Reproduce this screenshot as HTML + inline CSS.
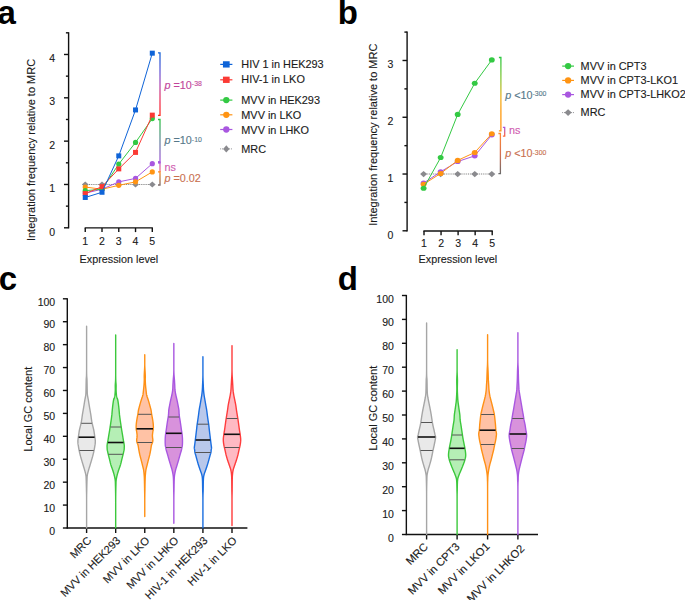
<!DOCTYPE html>
<html><head><meta charset="utf-8"><style>
html,body{margin:0;padding:0;background:#fff;overflow:hidden;}
svg{display:block;font-family:"Liberation Sans", sans-serif;}
</style></head><body>
<svg width="685" height="600" viewBox="0 0 685 600">
<rect width="685" height="600" fill="#fff"/>
<text x="-2.4" y="24.1" font-size="33" font-weight="bold" fill="#000">a</text>
<text x="337.8" y="24.1" font-size="33" font-weight="bold" fill="#000">b</text>
<text x="-1.3" y="290.1" font-size="33" font-weight="bold" fill="#000">c</text>
<text x="337.8" y="290.0" font-size="33" font-weight="bold" fill="#000">d</text>
<line x1="68.60" y1="32.22" x2="68.60" y2="228.40" stroke="#111" stroke-width="1.4" />
<line x1="64.00" y1="227.80" x2="68.60" y2="227.80" stroke="#111" stroke-width="1.4" />
<line x1="65.90" y1="206.14" x2="68.60" y2="206.14" stroke="#111" stroke-width="1.4" />
<line x1="64.00" y1="184.47" x2="68.60" y2="184.47" stroke="#111" stroke-width="1.4" />
<line x1="65.90" y1="162.81" x2="68.60" y2="162.81" stroke="#111" stroke-width="1.4" />
<line x1="64.00" y1="141.14" x2="68.60" y2="141.14" stroke="#111" stroke-width="1.4" />
<line x1="65.90" y1="119.48" x2="68.60" y2="119.48" stroke="#111" stroke-width="1.4" />
<line x1="64.00" y1="97.81" x2="68.60" y2="97.81" stroke="#111" stroke-width="1.4" />
<line x1="65.90" y1="76.15" x2="68.60" y2="76.15" stroke="#111" stroke-width="1.4" />
<line x1="64.00" y1="54.48" x2="68.60" y2="54.48" stroke="#111" stroke-width="1.4" />
<line x1="65.90" y1="32.82" x2="68.60" y2="32.82" stroke="#111" stroke-width="1.4" />
<text x="55.00" y="235.80" font-size="10.5" text-anchor="end" fill="#1a1a1a" stroke="#1a1a1a" stroke-width="0.12" >0</text>
<text x="55.00" y="192.30" font-size="10.5" text-anchor="end" fill="#1a1a1a" stroke="#1a1a1a" stroke-width="0.12" >1</text>
<text x="55.00" y="148.80" font-size="10.5" text-anchor="end" fill="#1a1a1a" stroke="#1a1a1a" stroke-width="0.12" >2</text>
<text x="55.00" y="105.30" font-size="10.5" text-anchor="end" fill="#1a1a1a" stroke="#1a1a1a" stroke-width="0.12" >3</text>
<text x="55.00" y="61.80" font-size="10.5" text-anchor="end" fill="#1a1a1a" stroke="#1a1a1a" stroke-width="0.12" >4</text>
<line x1="84.65" y1="227.90" x2="152.89" y2="227.90" stroke="#111" stroke-width="1.4" />
<line x1="85.25" y1="227.90" x2="85.25" y2="232.10" stroke="#111" stroke-width="1.4" />
<text x="85.25" y="244.60" font-size="10.5" text-anchor="middle" fill="#1a1a1a" stroke="#1a1a1a" stroke-width="0.12" >1</text>
<line x1="102.01" y1="227.90" x2="102.01" y2="232.10" stroke="#111" stroke-width="1.4" />
<text x="102.01" y="244.60" font-size="10.5" text-anchor="middle" fill="#1a1a1a" stroke="#1a1a1a" stroke-width="0.12" >2</text>
<line x1="118.77" y1="227.90" x2="118.77" y2="232.10" stroke="#111" stroke-width="1.4" />
<text x="118.77" y="244.60" font-size="10.5" text-anchor="middle" fill="#1a1a1a" stroke="#1a1a1a" stroke-width="0.12" >3</text>
<line x1="135.53" y1="227.90" x2="135.53" y2="232.10" stroke="#111" stroke-width="1.4" />
<text x="135.53" y="244.60" font-size="10.5" text-anchor="middle" fill="#1a1a1a" stroke="#1a1a1a" stroke-width="0.12" >4</text>
<line x1="152.29" y1="227.90" x2="152.29" y2="232.10" stroke="#111" stroke-width="1.4" />
<text x="152.29" y="244.60" font-size="10.5" text-anchor="middle" fill="#1a1a1a" stroke="#1a1a1a" stroke-width="0.12" >5</text>
<text x="118.90" y="262.90" font-size="10.8" text-anchor="middle" fill="#1a1a1a" stroke="#1a1a1a" stroke-width="0.12" >Expression level</text>
<text transform="translate(34.50,150.00) rotate(-90)" font-size="11" text-anchor="middle" fill="#1a1a1a" stroke="#1a1a1a" stroke-width="0.12">Integration frequency relative to MRC</text>
<polyline points="85.25,184.47 102.01,184.47 118.77,184.47 135.53,184.47 152.29,184.47" fill="none" stroke="#808080" stroke-width="1.1" stroke-dasharray="1 0.85"/>
<polygon points="85.25,181.47 88.60,184.47 85.25,187.47 81.90,184.47" fill="#8a8a8e"/>
<polygon points="102.01,181.47 105.36,184.47 102.01,187.47 98.66,184.47" fill="#8a8a8e"/>
<polygon points="118.77,181.47 122.12,184.47 118.77,187.47 115.42,184.47" fill="#8a8a8e"/>
<polygon points="135.53,181.47 138.88,184.47 135.53,187.47 132.18,184.47" fill="#8a8a8e"/>
<polygon points="152.29,181.47 155.64,184.47 152.29,187.47 148.94,184.47" fill="#8a8a8e"/>
<polyline points="85.25,193.14 102.01,189.24 118.77,181.87 135.53,178.40 152.29,163.67" fill="none" stroke="#a957e0" stroke-width="1.0"/>
<ellipse cx="85.25" cy="193.14" rx="2.6" ry="2.6" fill="#a957e0"/>
<ellipse cx="102.01" cy="189.24" rx="2.6" ry="2.6" fill="#a957e0"/>
<ellipse cx="118.77" cy="181.87" rx="2.6" ry="2.6" fill="#a957e0"/>
<ellipse cx="135.53" cy="178.40" rx="2.6" ry="2.6" fill="#a957e0"/>
<ellipse cx="152.29" cy="163.67" rx="2.6" ry="2.6" fill="#a957e0"/>
<polyline points="85.25,187.07 102.01,189.24 118.77,185.34 135.53,181.87 152.29,171.90" fill="none" stroke="#ff9413" stroke-width="1.0"/>
<ellipse cx="85.25" cy="187.07" rx="2.6" ry="2.6" fill="#ff9413"/>
<ellipse cx="102.01" cy="189.24" rx="2.6" ry="2.6" fill="#ff9413"/>
<ellipse cx="118.77" cy="185.34" rx="2.6" ry="2.6" fill="#ff9413"/>
<ellipse cx="135.53" cy="181.87" rx="2.6" ry="2.6" fill="#ff9413"/>
<ellipse cx="152.29" cy="171.90" rx="2.6" ry="2.6" fill="#ff9413"/>
<polyline points="85.25,190.67 102.01,189.24 118.77,164.10 135.53,142.44 152.29,118.61" fill="none" stroke="#33c943" stroke-width="1.0"/>
<ellipse cx="85.25" cy="190.67" rx="2.6" ry="2.6" fill="#33c943"/>
<ellipse cx="102.01" cy="189.24" rx="2.6" ry="2.6" fill="#33c943"/>
<ellipse cx="118.77" cy="164.10" rx="2.6" ry="2.6" fill="#33c943"/>
<ellipse cx="135.53" cy="142.44" rx="2.6" ry="2.6" fill="#33c943"/>
<ellipse cx="152.29" cy="118.61" rx="2.6" ry="2.6" fill="#33c943"/>
<polyline points="85.25,193.57 102.01,186.64 118.77,168.87 135.53,152.41 152.29,115.14" fill="none" stroke="#fb3a34" stroke-width="1.0"/>
<rect x="82.75" y="191.07" width="5.0" height="5.0" fill="#fb3a34"/>
<rect x="99.51" y="184.14" width="5.0" height="5.0" fill="#fb3a34"/>
<rect x="116.27" y="166.37" width="5.0" height="5.0" fill="#fb3a34"/>
<rect x="133.03" y="149.91" width="5.0" height="5.0" fill="#fb3a34"/>
<rect x="149.79" y="112.64" width="5.0" height="5.0" fill="#fb3a34"/>
<polyline points="85.25,197.47 102.01,192.27 118.77,155.87 135.53,109.94 152.29,53.18" fill="none" stroke="#0f64d8" stroke-width="1.0"/>
<rect x="82.75" y="194.97" width="5.0" height="5.0" fill="#0f64d8"/>
<rect x="99.51" y="189.77" width="5.0" height="5.0" fill="#0f64d8"/>
<rect x="116.27" y="153.37" width="5.0" height="5.0" fill="#0f64d8"/>
<rect x="133.03" y="107.44" width="5.0" height="5.0" fill="#0f64d8"/>
<rect x="149.79" y="50.68" width="5.0" height="5.0" fill="#0f64d8"/>
<defs><linearGradient id="g1" gradientUnits="userSpaceOnUse" x1="0" y1="52.8" x2="0" y2="115.4"><stop offset="0" stop-color="#1565d8"/><stop offset="0.3" stop-color="#6a5ed8"/><stop offset="0.5" stop-color="#b04fb8"/><stop offset="0.75" stop-color="#ee3a60"/><stop offset="1" stop-color="#ff2a20"/></linearGradient></defs>
<path d="M158.00,52.80 H160.00 V115.40 H158.00" fill="none" stroke="url(#g1)" stroke-width="1.3"/>
<defs><linearGradient id="g2" gradientUnits="userSpaceOnUse" x1="0" y1="119.5" x2="0" y2="162.4"><stop offset="0" stop-color="#2fc545"/><stop offset="0.5" stop-color="#6a8aa0"/><stop offset="1" stop-color="#a957e0"/></linearGradient></defs>
<path d="M158.00,119.50 H160.00 V162.40 H158.00" fill="none" stroke="url(#g2)" stroke-width="1.3"/>
<defs><linearGradient id="g3" gradientUnits="userSpaceOnUse" x1="0" y1="162.3" x2="0" y2="171.9"><stop offset="0" stop-color="#b860d8"/><stop offset="1" stop-color="#ff7070"/></linearGradient></defs>
<path d="M160.00,162.30 H160.00 V171.90 H160.00" fill="none" stroke="url(#g3)" stroke-width="1.3"/>
<defs><linearGradient id="g4" gradientUnits="userSpaceOnUse" x1="0" y1="171.9" x2="0" y2="185.0"><stop offset="0" stop-color="#ff8a20"/><stop offset="1" stop-color="#7a6a6a"/></linearGradient></defs>
<path d="M158.00,171.90 H160.00 V185.00 H158.00" fill="none" stroke="url(#g4)" stroke-width="1.3"/>
<text x="164.50" y="88.80" font-size="10.8" fill="#c2449a" stroke="#c2449a" stroke-width="0.12"><tspan font-style="italic">p</tspan> =10<tspan font-size="6.9" dy="-2.6">-38</tspan></text>
<text x="164.50" y="144.40" font-size="10.8" fill="#56788a" stroke="#56788a" stroke-width="0.12"><tspan font-style="italic">p</tspan> =10<tspan font-size="6.9" dy="-2.6">-10</tspan></text>
<text x="164.50" y="170.70" font-size="10.8" text-anchor="start" fill="#d05cb0" stroke="#d05cb0" stroke-width="0.12" >ns</text>
<rect x="158.0" y="161.1" width="2.4" height="2.5" fill="#a957e0"/>
<text x="164.50" y="181.60" font-size="10.8" fill="#c9704f" stroke="#c9704f" stroke-width="0.12"><tspan font-style="italic">p</tspan> =0.02</text>
<line x1="220.20" y1="64.40" x2="232.40" y2="64.40" stroke="#0f64d8" stroke-width="1.2" />
<rect x="222.95" y="61.25" width="6.7" height="6.3" fill="#0f64d8"/>
<text x="241.30" y="68.20" font-size="10.9" text-anchor="start" fill="#1a1a1a" stroke="#1a1a1a" stroke-width="0.12" >HIV 1 in HEK293</text>
<line x1="220.20" y1="79.80" x2="232.40" y2="79.80" stroke="#fb3a34" stroke-width="1.2" />
<rect x="222.95" y="76.65" width="6.7" height="6.3" fill="#fb3a34"/>
<text x="241.30" y="83.40" font-size="10.9" text-anchor="start" fill="#1a1a1a" stroke="#1a1a1a" stroke-width="0.12" >HIV-1 in LKO</text>
<line x1="220.20" y1="100.10" x2="232.40" y2="100.10" stroke="#33c943" stroke-width="1.2" />
<ellipse cx="226.30" cy="100.10" rx="3.15" ry="3.15" fill="#33c943"/>
<text x="241.30" y="104.30" font-size="10.9" text-anchor="start" fill="#1a1a1a" stroke="#1a1a1a" stroke-width="0.12" >MVV in HEK293</text>
<line x1="220.20" y1="114.80" x2="232.40" y2="114.80" stroke="#ff9413" stroke-width="1.2" />
<ellipse cx="226.30" cy="114.80" rx="3.15" ry="3.15" fill="#ff9413"/>
<text x="241.30" y="118.90" font-size="10.9" text-anchor="start" fill="#1a1a1a" stroke="#1a1a1a" stroke-width="0.12" >MVV in LKO</text>
<line x1="220.20" y1="129.50" x2="232.40" y2="129.50" stroke="#a957e0" stroke-width="1.2" />
<ellipse cx="226.30" cy="129.50" rx="3.15" ry="3.15" fill="#a957e0"/>
<text x="241.30" y="133.50" font-size="10.9" text-anchor="start" fill="#1a1a1a" stroke="#1a1a1a" stroke-width="0.12" >MVV in LHKO</text>
<line x1="220.20" y1="148.90" x2="232.40" y2="148.90" stroke="#8a8a8e" stroke-width="1.0" stroke-dasharray="0.9 0.9"/>
<polygon points="226.30,145.20 229.50,148.90 226.30,152.60 223.10,148.90" fill="#8a8a8e"/>
<text x="241.30" y="152.50" font-size="10.9" text-anchor="start" fill="#1a1a1a" stroke="#1a1a1a" stroke-width="0.12" >MRC</text>
<line x1="407.10" y1="31.50" x2="407.10" y2="231.40" stroke="#111" stroke-width="1.4" />
<line x1="402.50" y1="230.80" x2="407.10" y2="230.80" stroke="#111" stroke-width="1.4" />
<line x1="404.40" y1="202.42" x2="407.10" y2="202.42" stroke="#111" stroke-width="1.4" />
<line x1="402.50" y1="174.03" x2="407.10" y2="174.03" stroke="#111" stroke-width="1.4" />
<line x1="404.40" y1="145.65" x2="407.10" y2="145.65" stroke="#111" stroke-width="1.4" />
<line x1="402.50" y1="117.26" x2="407.10" y2="117.26" stroke="#111" stroke-width="1.4" />
<line x1="404.40" y1="88.88" x2="407.10" y2="88.88" stroke="#111" stroke-width="1.4" />
<line x1="402.50" y1="60.49" x2="407.10" y2="60.49" stroke="#111" stroke-width="1.4" />
<line x1="404.40" y1="32.10" x2="407.10" y2="32.10" stroke="#111" stroke-width="1.4" />
<text x="393.30" y="238.90" font-size="10.5" text-anchor="end" fill="#1a1a1a" stroke="#1a1a1a" stroke-width="0.12" >0</text>
<text x="393.30" y="181.90" font-size="10.5" text-anchor="end" fill="#1a1a1a" stroke="#1a1a1a" stroke-width="0.12" >1</text>
<text x="393.30" y="124.90" font-size="10.5" text-anchor="end" fill="#1a1a1a" stroke="#1a1a1a" stroke-width="0.12" >2</text>
<text x="393.30" y="67.90" font-size="10.5" text-anchor="end" fill="#1a1a1a" stroke="#1a1a1a" stroke-width="0.12" >3</text>
<line x1="423.40" y1="231.00" x2="492.80" y2="231.00" stroke="#111" stroke-width="1.4" />
<line x1="424.00" y1="231.00" x2="424.00" y2="235.20" stroke="#111" stroke-width="1.4" />
<text x="424.00" y="247.00" font-size="10.5" text-anchor="middle" fill="#1a1a1a" stroke="#1a1a1a" stroke-width="0.12" >1</text>
<line x1="441.05" y1="231.00" x2="441.05" y2="235.20" stroke="#111" stroke-width="1.4" />
<text x="441.05" y="247.00" font-size="10.5" text-anchor="middle" fill="#1a1a1a" stroke="#1a1a1a" stroke-width="0.12" >2</text>
<line x1="458.10" y1="231.00" x2="458.10" y2="235.20" stroke="#111" stroke-width="1.4" />
<text x="458.10" y="247.00" font-size="10.5" text-anchor="middle" fill="#1a1a1a" stroke="#1a1a1a" stroke-width="0.12" >3</text>
<line x1="475.15" y1="231.00" x2="475.15" y2="235.20" stroke="#111" stroke-width="1.4" />
<text x="475.15" y="247.00" font-size="10.5" text-anchor="middle" fill="#1a1a1a" stroke="#1a1a1a" stroke-width="0.12" >4</text>
<line x1="492.20" y1="231.00" x2="492.20" y2="235.20" stroke="#111" stroke-width="1.4" />
<text x="492.20" y="247.00" font-size="10.5" text-anchor="middle" fill="#1a1a1a" stroke="#1a1a1a" stroke-width="0.12" >5</text>
<text x="457.90" y="262.80" font-size="10.8" text-anchor="middle" fill="#1a1a1a" stroke="#1a1a1a" stroke-width="0.12" >Expression level</text>
<text transform="translate(376.60,134.70) rotate(-90)" font-size="11" text-anchor="middle" fill="#1a1a1a" stroke="#1a1a1a" stroke-width="0.12">Integration frequency relative to MRC</text>
<polyline points="423.60,174.03 440.65,174.03 457.70,174.03 474.75,174.03 491.80,174.03" fill="none" stroke="#808080" stroke-width="1.1" stroke-dasharray="1 0.85"/>
<polygon points="423.60,170.93 427.10,174.03 423.60,177.13 420.10,174.03" fill="#8a8a8e"/>
<polygon points="440.65,170.93 444.15,174.03 440.65,177.13 437.15,174.03" fill="#8a8a8e"/>
<polygon points="457.70,170.93 461.20,174.03 457.70,177.13 454.20,174.03" fill="#8a8a8e"/>
<polygon points="474.75,170.93 478.25,174.03 474.75,177.13 471.25,174.03" fill="#8a8a8e"/>
<polygon points="491.80,170.93 495.30,174.03 491.80,177.13 488.30,174.03" fill="#8a8a8e"/>
<polyline points="423.60,183.11 440.65,171.76 457.70,161.54 474.75,155.86 491.80,134.86" fill="none" stroke="#a957e0" stroke-width="1.0"/>
<ellipse cx="423.60" cy="183.11" rx="2.95" ry="2.55" fill="#a957e0"/>
<ellipse cx="440.65" cy="171.76" rx="2.95" ry="2.55" fill="#a957e0"/>
<ellipse cx="457.70" cy="161.54" rx="2.95" ry="2.55" fill="#a957e0"/>
<ellipse cx="474.75" cy="155.86" rx="2.95" ry="2.55" fill="#a957e0"/>
<ellipse cx="491.80" cy="134.86" rx="2.95" ry="2.55" fill="#a957e0"/>
<polyline points="423.60,184.25 440.65,173.46 457.70,160.41 474.75,152.46 491.80,133.72" fill="none" stroke="#ff9413" stroke-width="1.0"/>
<ellipse cx="423.60" cy="184.25" rx="2.95" ry="2.55" fill="#ff9413"/>
<ellipse cx="440.65" cy="173.46" rx="2.95" ry="2.55" fill="#ff9413"/>
<ellipse cx="457.70" cy="160.41" rx="2.95" ry="2.55" fill="#ff9413"/>
<ellipse cx="474.75" cy="152.46" rx="2.95" ry="2.55" fill="#ff9413"/>
<ellipse cx="491.80" cy="133.72" rx="2.95" ry="2.55" fill="#ff9413"/>
<polyline points="423.60,188.22 440.65,157.57 457.70,114.42 474.75,83.20 491.80,59.92" fill="none" stroke="#33c943" stroke-width="1.0"/>
<ellipse cx="423.60" cy="188.22" rx="2.95" ry="2.55" fill="#33c943"/>
<ellipse cx="440.65" cy="157.57" rx="2.95" ry="2.55" fill="#33c943"/>
<ellipse cx="457.70" cy="114.42" rx="2.95" ry="2.55" fill="#33c943"/>
<ellipse cx="474.75" cy="83.20" rx="2.95" ry="2.55" fill="#33c943"/>
<ellipse cx="491.80" cy="59.92" rx="2.95" ry="2.55" fill="#33c943"/>
<defs><linearGradient id="g5" gradientUnits="userSpaceOnUse" x1="0" y1="57.5" x2="0" y2="130.8"><stop offset="0" stop-color="#2ec943"/><stop offset="0.3" stop-color="#8cc83a"/><stop offset="0.55" stop-color="#f0b020"/><stop offset="0.75" stop-color="#ff9a10"/><stop offset="1" stop-color="#ff9413"/></linearGradient></defs>
<path d="M498.90,57.50 H500.90 V130.80 H498.90" fill="none" stroke="url(#g5)" stroke-width="1.3"/>
<defs><linearGradient id="g6" gradientUnits="userSpaceOnUse" x1="0" y1="127.4" x2="0" y2="136.1"><stop offset="0" stop-color="#a957e0"/><stop offset="1" stop-color="#ff6a3a"/></linearGradient></defs>
<path d="M502.90,127.40 H504.70 V136.10 H502.90" fill="none" stroke="url(#g6)" stroke-width="1.3"/>
<defs><linearGradient id="g7" gradientUnits="userSpaceOnUse" x1="0" y1="133.5" x2="0" y2="173.6"><stop offset="0" stop-color="#ff8a30"/><stop offset="0.5" stop-color="#d87050"/><stop offset="1" stop-color="#6a6a6a"/></linearGradient></defs>
<path d="M498.40,133.50 H500.40 V173.60 H498.40" fill="none" stroke="url(#g7)" stroke-width="1.3"/>
<text x="505.20" y="98.60" font-size="10.8" fill="#56788a" stroke="#56788a" stroke-width="0.12"><tspan font-style="italic">p</tspan> &lt;10<tspan font-size="6.9" dy="-2.6">-300</tspan></text>
<text x="508.90" y="133.50" font-size="10.8" text-anchor="start" fill="#d05cb0" stroke="#d05cb0" stroke-width="0.12" >ns</text>
<text x="505.20" y="157.30" font-size="10.8" fill="#c9704f" stroke="#c9704f" stroke-width="0.12"><tspan font-style="italic">p</tspan> &lt;10<tspan font-size="6.9" dy="-2.6">-300</tspan></text>
<line x1="562.20" y1="66.10" x2="574.00" y2="66.10" stroke="#33c943" stroke-width="1.2" />
<ellipse cx="568.10" cy="66.10" rx="3.15" ry="3.15" fill="#33c943"/>
<text x="580.60" y="69.70" font-size="10.9" text-anchor="start" fill="#1a1a1a" stroke="#1a1a1a" stroke-width="0.12" >MVV in CPT3</text>
<line x1="562.20" y1="80.40" x2="574.00" y2="80.40" stroke="#ff9413" stroke-width="1.2" />
<ellipse cx="568.10" cy="80.40" rx="3.15" ry="3.15" fill="#ff9413"/>
<text x="580.60" y="84.10" font-size="10.9" text-anchor="start" fill="#1a1a1a" stroke="#1a1a1a" stroke-width="0.12" >MVV in CPT3-LKO1</text>
<line x1="562.20" y1="94.60" x2="574.00" y2="94.60" stroke="#a957e0" stroke-width="1.2" />
<ellipse cx="568.10" cy="94.60" rx="3.15" ry="3.15" fill="#a957e0"/>
<text x="580.60" y="98.10" font-size="10.9" text-anchor="start" fill="#1a1a1a" stroke="#1a1a1a" stroke-width="0.12" >MVV in CPT3-LHKO2</text>
<line x1="562.20" y1="112.60" x2="574.00" y2="112.60" stroke="#8a8a8e" stroke-width="1.0" stroke-dasharray="0.9 0.9"/>
<polygon points="568.10,109.20 571.70,112.60 568.10,116.00 564.50,112.60" fill="#8a8a8e"/>
<text x="580.60" y="116.30" font-size="10.9" text-anchor="start" fill="#1a1a1a" stroke="#1a1a1a" stroke-width="0.12" >MRC</text>
<line x1="67.30" y1="298.20" x2="67.30" y2="528.60" stroke="#111" stroke-width="1.4" />
<line x1="62.90" y1="528.00" x2="67.30" y2="528.00" stroke="#111" stroke-width="1.4" />
<text x="55.20" y="534.70" font-size="10.5" text-anchor="end" fill="#1a1a1a" stroke="#1a1a1a" stroke-width="0.12" >0</text>
<line x1="62.90" y1="505.08" x2="67.30" y2="505.08" stroke="#111" stroke-width="1.4" />
<text x="55.20" y="511.78" font-size="10.5" text-anchor="end" fill="#1a1a1a" stroke="#1a1a1a" stroke-width="0.12" >10</text>
<line x1="62.90" y1="482.16" x2="67.30" y2="482.16" stroke="#111" stroke-width="1.4" />
<text x="55.20" y="488.86" font-size="10.5" text-anchor="end" fill="#1a1a1a" stroke="#1a1a1a" stroke-width="0.12" >20</text>
<line x1="62.90" y1="459.24" x2="67.30" y2="459.24" stroke="#111" stroke-width="1.4" />
<text x="55.20" y="465.94" font-size="10.5" text-anchor="end" fill="#1a1a1a" stroke="#1a1a1a" stroke-width="0.12" >30</text>
<line x1="62.90" y1="436.32" x2="67.30" y2="436.32" stroke="#111" stroke-width="1.4" />
<text x="55.20" y="443.02" font-size="10.5" text-anchor="end" fill="#1a1a1a" stroke="#1a1a1a" stroke-width="0.12" >40</text>
<line x1="62.90" y1="413.40" x2="67.30" y2="413.40" stroke="#111" stroke-width="1.4" />
<text x="55.20" y="420.10" font-size="10.5" text-anchor="end" fill="#1a1a1a" stroke="#1a1a1a" stroke-width="0.12" >50</text>
<line x1="62.90" y1="390.48" x2="67.30" y2="390.48" stroke="#111" stroke-width="1.4" />
<text x="55.20" y="397.18" font-size="10.5" text-anchor="end" fill="#1a1a1a" stroke="#1a1a1a" stroke-width="0.12" >60</text>
<line x1="62.90" y1="367.56" x2="67.30" y2="367.56" stroke="#111" stroke-width="1.4" />
<text x="55.20" y="374.26" font-size="10.5" text-anchor="end" fill="#1a1a1a" stroke="#1a1a1a" stroke-width="0.12" >70</text>
<line x1="62.90" y1="344.64" x2="67.30" y2="344.64" stroke="#111" stroke-width="1.4" />
<text x="55.20" y="351.34" font-size="10.5" text-anchor="end" fill="#1a1a1a" stroke="#1a1a1a" stroke-width="0.12" >80</text>
<line x1="62.90" y1="321.72" x2="67.30" y2="321.72" stroke="#111" stroke-width="1.4" />
<text x="55.20" y="328.42" font-size="10.5" text-anchor="end" fill="#1a1a1a" stroke="#1a1a1a" stroke-width="0.12" >90</text>
<line x1="62.90" y1="298.80" x2="67.30" y2="298.80" stroke="#111" stroke-width="1.4" />
<text x="55.20" y="305.50" font-size="10.5" text-anchor="end" fill="#1a1a1a" stroke="#1a1a1a" stroke-width="0.12" >100</text>
<line x1="66.70" y1="528.00" x2="247.40" y2="528.00" stroke="#111" stroke-width="1.4" />
<line x1="86.60" y1="528.00" x2="86.60" y2="533.00" stroke="#111" stroke-width="1.4" />
<line x1="115.68" y1="528.00" x2="115.68" y2="533.00" stroke="#111" stroke-width="1.4" />
<line x1="144.76" y1="528.00" x2="144.76" y2="533.00" stroke="#111" stroke-width="1.4" />
<line x1="173.84" y1="528.00" x2="173.84" y2="533.00" stroke="#111" stroke-width="1.4" />
<line x1="202.92" y1="528.00" x2="202.92" y2="533.00" stroke="#111" stroke-width="1.4" />
<line x1="232.00" y1="528.00" x2="232.00" y2="533.00" stroke="#111" stroke-width="1.4" />
<text transform="translate(92.10,541.20) rotate(-45)" font-size="11" text-anchor="end" fill="#1a1a1a" stroke="#1a1a1a" stroke-width="0.12">MRC</text>
<text transform="translate(121.18,541.20) rotate(-45)" font-size="11" text-anchor="end" fill="#1a1a1a" stroke="#1a1a1a" stroke-width="0.12">MVV in HEK293</text>
<text transform="translate(150.26,541.20) rotate(-45)" font-size="11" text-anchor="end" fill="#1a1a1a" stroke="#1a1a1a" stroke-width="0.12">MVV in LKO</text>
<text transform="translate(179.34,541.20) rotate(-45)" font-size="11" text-anchor="end" fill="#1a1a1a" stroke="#1a1a1a" stroke-width="0.12">MVV in LHKO</text>
<text transform="translate(208.42,541.20) rotate(-45)" font-size="11" text-anchor="end" fill="#1a1a1a" stroke="#1a1a1a" stroke-width="0.12">HIV-1 in HEK293</text>
<text transform="translate(237.50,541.20) rotate(-45)" font-size="11" text-anchor="end" fill="#1a1a1a" stroke="#1a1a1a" stroke-width="0.12">HIV-1 in LKO</text>
<text transform="translate(32.40,409.20) rotate(-90)" font-size="11" text-anchor="middle" fill="#1a1a1a" stroke="#1a1a1a" stroke-width="0.12">Local GC content</text>
<polygon points="86.60,326.20 86.60,331.36 86.60,338.81 86.60,347.47 86.60,356.28 86.60,364.15 86.60,370.00 86.65,373.62 86.71,375.84 86.79,377.11 86.87,377.92 86.94,378.72 87.00,380.00 87.04,381.72 87.08,383.52 87.11,385.31 87.14,387.04 87.17,388.62 87.20,390.00 87.23,391.12 87.26,392.04 87.28,392.81 87.32,393.52 87.37,394.22 87.45,395.00 87.56,395.83 87.71,396.67 87.87,397.50 88.03,398.33 88.20,399.17 88.35,400.00 88.49,400.83 88.62,401.67 88.75,402.50 88.88,403.33 89.01,404.17 89.15,405.00 89.29,405.83 89.43,406.67 89.57,407.50 89.71,408.33 89.86,409.17 90.00,410.00 90.14,410.83 90.29,411.67 90.43,412.50 90.58,413.33 90.72,414.17 90.85,415.00 90.97,415.83 91.08,416.67 91.19,417.50 91.30,418.33 91.42,419.17 91.55,420.00 91.70,420.83 91.85,421.67 92.02,422.50 92.19,423.33 92.37,424.17 92.55,425.00 92.74,425.83 92.95,426.67 93.16,427.50 93.37,428.33 93.57,429.17 93.75,430.00 93.91,430.83 94.05,431.67 94.18,432.50 94.31,433.33 94.43,434.17 94.55,435.00 94.68,435.86 94.82,436.74 94.95,437.62 95.07,438.48 95.17,439.28 95.25,440.00 95.29,440.63 95.31,441.19 95.31,441.69 95.29,442.15 95.27,442.58 95.25,443.00 95.23,443.36 95.21,443.63 95.18,443.88 95.14,444.15 95.08,444.50 95.00,445.00 94.90,445.66 94.77,446.44 94.63,447.31 94.48,448.22 94.32,449.13 94.15,450.00 93.98,450.83 93.80,451.67 93.61,452.50 93.41,453.33 93.21,454.17 93.00,455.00 92.78,455.83 92.56,456.67 92.32,457.50 92.08,458.33 91.84,459.17 91.60,460.00 91.36,460.83 91.11,461.67 90.86,462.50 90.60,463.33 90.35,464.17 90.10,465.00 89.85,465.83 89.59,466.67 89.33,467.50 89.08,468.33 88.84,469.17 88.60,470.00 88.37,470.83 88.13,471.67 87.90,472.50 87.69,473.33 87.50,474.17 87.35,475.00 87.24,475.78 87.16,476.48 87.11,477.19 87.08,477.96 87.04,478.88 87.00,480.00 86.95,481.38 86.91,482.96 86.86,484.69 86.82,486.48 86.78,488.28 86.75,490.00 86.72,491.46 86.69,492.67 86.66,493.88 86.64,495.33 86.62,497.29 86.60,500.00 86.60,503.95 86.60,509.04 86.60,514.62 86.60,520.07 86.60,524.75 86.60,528.00 86.60,528.00 86.60,524.75 86.60,520.07 86.60,514.62 86.60,509.04 86.60,503.95 86.60,500.00 86.58,497.29 86.56,495.33 86.54,493.88 86.51,492.67 86.48,491.46 86.45,490.00 86.42,488.28 86.38,486.48 86.34,484.69 86.29,482.96 86.25,481.38 86.20,480.00 86.16,478.88 86.12,477.96 86.09,477.19 86.04,476.48 85.96,475.78 85.85,475.00 85.70,474.17 85.51,473.33 85.30,472.50 85.07,471.67 84.83,470.83 84.60,470.00 84.36,469.17 84.12,468.33 83.87,467.50 83.61,466.67 83.35,465.83 83.10,465.00 82.85,464.17 82.60,463.33 82.34,462.50 82.09,461.67 81.84,460.83 81.60,460.00 81.36,459.17 81.12,458.33 80.88,457.50 80.64,456.67 80.42,455.83 80.20,455.00 79.99,454.17 79.79,453.33 79.59,452.50 79.40,451.67 79.22,450.83 79.05,450.00 78.88,449.13 78.72,448.22 78.57,447.31 78.43,446.44 78.30,445.66 78.20,445.00 78.12,444.50 78.06,444.15 78.02,443.88 77.99,443.63 77.97,443.36 77.95,443.00 77.93,442.58 77.91,442.15 77.89,441.69 77.89,441.19 77.91,440.63 77.95,440.00 78.02,439.28 78.13,438.48 78.25,437.62 78.38,436.74 78.52,435.86 78.65,435.00 78.77,434.17 78.89,433.33 79.02,432.50 79.15,431.67 79.29,430.83 79.45,430.00 79.63,429.17 79.83,428.33 80.04,427.50 80.25,426.67 80.46,425.83 80.65,425.00 80.83,424.17 81.01,423.33 81.18,422.50 81.35,421.67 81.50,420.83 81.65,420.00 81.78,419.17 81.90,418.33 82.01,417.50 82.12,416.67 82.23,415.83 82.35,415.00 82.48,414.17 82.62,413.33 82.77,412.50 82.91,411.67 83.06,410.83 83.20,410.00 83.34,409.17 83.49,408.33 83.63,407.50 83.77,406.67 83.91,405.83 84.05,405.00 84.19,404.17 84.32,403.33 84.45,402.50 84.58,401.67 84.71,400.83 84.85,400.00 85.00,399.17 85.17,398.33 85.33,397.50 85.49,396.67 85.64,395.83 85.75,395.00 85.83,394.22 85.88,393.52 85.92,392.81 85.94,392.04 85.97,391.12 86.00,390.00 86.03,388.62 86.06,387.04 86.09,385.31 86.12,383.52 86.16,381.72 86.20,380.00 86.26,378.72 86.33,377.92 86.41,377.11 86.49,375.84 86.55,373.62 86.60,370.00 86.60,364.15 86.60,356.28 86.60,347.47 86.60,338.81 86.60,331.36 86.60,326.20" fill="#e9e9e9" stroke="#a6a6a6" stroke-width="1.4" stroke-linejoin="round"/>
<line x1="81.32" y1="423.30" x2="91.88" y2="423.30" stroke="#555" stroke-width="1.0" />
<line x1="79.45" y1="450.50" x2="93.75" y2="450.50" stroke="#555" stroke-width="1.0" />
<line x1="78.61" y1="437.20" x2="94.59" y2="437.20" stroke="#111" stroke-width="1.6" />
<polygon points="115.68,335.00 115.68,339.70 115.68,346.48 115.68,354.38 115.68,362.41 115.68,369.61 115.68,375.00 115.73,378.46 115.80,380.74 115.88,382.19 115.96,383.15 116.03,383.97 116.08,385.00 116.10,386.12 116.10,387.04 116.08,387.81 116.07,388.52 116.06,389.22 116.08,390.00 116.11,390.86 116.16,391.74 116.21,392.62 116.28,393.48 116.35,394.28 116.43,395.00 116.52,395.63 116.62,396.19 116.73,396.69 116.85,397.15 116.97,397.58 117.08,398.00 117.19,398.36 117.31,398.63 117.42,398.88 117.54,399.15 117.66,399.50 117.78,400.00 117.90,400.66 118.03,401.44 118.16,402.31 118.29,403.22 118.42,404.13 118.53,405.00 118.63,405.83 118.73,406.67 118.82,407.50 118.91,408.33 119.00,409.17 119.08,410.00 119.16,410.83 119.23,411.67 119.30,412.50 119.37,413.33 119.44,414.17 119.53,415.00 119.63,415.83 119.73,416.67 119.84,417.50 119.95,418.33 120.06,419.17 120.18,420.00 120.30,420.83 120.42,421.67 120.55,422.50 120.68,423.33 120.80,424.17 120.93,425.00 121.05,425.83 121.18,426.67 121.30,427.50 121.42,428.33 121.55,429.17 121.68,430.00 121.82,430.83 121.96,431.67 122.10,432.50 122.25,433.33 122.39,434.17 122.53,435.00 122.67,435.83 122.80,436.67 122.93,437.50 123.06,438.33 123.19,439.17 123.33,440.00 123.48,440.86 123.66,441.74 123.83,442.62 123.99,443.48 124.13,444.28 124.23,445.00 124.28,445.63 124.30,446.19 124.30,446.69 124.27,447.15 124.25,447.58 124.23,448.00 124.23,448.36 124.23,448.63 124.23,448.88 124.21,449.15 124.16,449.50 124.08,450.00 123.95,450.66 123.77,451.44 123.57,452.31 123.36,453.22 123.14,454.13 122.93,455.00 122.73,455.83 122.52,456.67 122.31,457.50 122.10,458.33 121.89,459.17 121.68,460.00 121.48,460.83 121.28,461.67 121.09,462.50 120.88,463.33 120.67,464.17 120.43,465.00 120.16,465.83 119.87,466.67 119.57,467.50 119.26,468.33 118.96,469.17 118.68,470.00 118.41,470.83 118.14,471.67 117.88,472.50 117.63,473.33 117.40,474.17 117.18,475.00 116.98,475.83 116.78,476.67 116.60,477.50 116.44,478.33 116.30,479.17 116.18,480.00 116.09,480.78 116.04,481.48 116.00,482.19 115.98,482.96 115.96,483.88 115.93,485.00 115.89,486.38 115.85,487.96 115.82,489.69 115.78,491.48 115.75,493.28 115.73,495.00 115.71,496.52 115.70,497.85 115.69,499.19 115.69,500.70 115.68,502.58 115.68,505.00 115.68,508.35 115.68,512.56 115.68,517.12 115.68,521.56 115.68,525.35 115.68,528.00 115.68,528.00 115.68,525.35 115.68,521.56 115.68,517.12 115.68,512.56 115.68,508.35 115.68,505.00 115.68,502.58 115.67,500.70 115.67,499.19 115.66,497.85 115.65,496.52 115.63,495.00 115.61,493.28 115.58,491.48 115.54,489.69 115.51,487.96 115.47,486.38 115.43,485.00 115.40,483.88 115.38,482.96 115.35,482.19 115.32,481.48 115.27,480.78 115.18,480.00 115.06,479.17 114.92,478.33 114.76,477.50 114.58,476.67 114.38,475.83 114.18,475.00 113.96,474.17 113.73,473.33 113.48,472.50 113.22,471.67 112.95,470.83 112.68,470.00 112.40,469.17 112.10,468.33 111.79,467.50 111.49,466.67 111.20,465.83 110.93,465.00 110.69,464.17 110.48,463.33 110.27,462.50 110.08,461.67 109.88,460.83 109.68,460.00 109.47,459.17 109.26,458.33 109.05,457.50 108.84,456.67 108.63,455.83 108.43,455.00 108.22,454.13 108.00,453.22 107.79,452.31 107.59,451.44 107.41,450.66 107.28,450.00 107.20,449.50 107.15,449.15 107.13,448.88 107.13,448.63 107.13,448.36 107.13,448.00 107.11,447.58 107.09,447.15 107.06,446.69 107.06,446.19 107.08,445.63 107.13,445.00 107.23,444.28 107.37,443.48 107.53,442.62 107.70,441.74 107.88,440.86 108.03,440.00 108.17,439.17 108.30,438.33 108.43,437.50 108.56,436.67 108.69,435.83 108.83,435.00 108.97,434.17 109.11,433.33 109.26,432.50 109.40,431.67 109.54,430.83 109.68,430.00 109.81,429.17 109.94,428.33 110.06,427.50 110.18,426.67 110.31,425.83 110.43,425.00 110.56,424.17 110.68,423.33 110.81,422.50 110.94,421.67 111.06,420.83 111.18,420.00 111.30,419.17 111.41,418.33 111.52,417.50 111.63,416.67 111.73,415.83 111.83,415.00 111.92,414.17 111.99,413.33 112.06,412.50 112.13,411.67 112.20,410.83 112.28,410.00 112.36,409.17 112.45,408.33 112.54,407.50 112.63,406.67 112.73,405.83 112.83,405.00 112.94,404.13 113.07,403.22 113.20,402.31 113.33,401.44 113.46,400.66 113.58,400.00 113.70,399.50 113.82,399.15 113.94,398.88 114.05,398.63 114.17,398.36 114.28,398.00 114.39,397.58 114.51,397.15 114.63,396.69 114.74,396.19 114.84,395.63 114.93,395.00 115.01,394.28 115.08,393.48 115.15,392.62 115.20,391.74 115.25,390.86 115.28,390.00 115.30,389.22 115.29,388.52 115.28,387.81 115.26,387.04 115.26,386.12 115.28,385.00 115.33,383.97 115.40,383.15 115.48,382.19 115.56,380.74 115.63,378.46 115.68,375.00 115.68,369.61 115.68,362.41 115.68,354.38 115.68,346.48 115.68,339.70 115.68,335.00" fill="#b5efb5" stroke="#3cc83c" stroke-width="1.4" stroke-linejoin="round"/>
<line x1="110.43" y1="427.00" x2="120.93" y2="427.00" stroke="#555" stroke-width="1.0" />
<line x1="108.56" y1="454.30" x2="122.80" y2="454.30" stroke="#555" stroke-width="1.0" />
<line x1="107.85" y1="442.50" x2="123.51" y2="442.50" stroke="#111" stroke-width="1.6" />
<polygon points="144.76,354.70 144.76,355.82 144.76,357.38 144.76,359.22 144.76,361.21 144.76,363.18 144.76,365.00 144.82,366.74 144.91,368.54 145.01,370.33 145.11,372.05 145.20,373.63 145.26,375.00 145.29,376.12 145.29,377.04 145.28,377.81 145.26,378.52 145.25,379.22 145.26,380.00 145.28,380.83 145.32,381.67 145.35,382.50 145.40,383.33 145.45,384.17 145.51,385.00 145.58,385.83 145.65,386.67 145.73,387.50 145.82,388.33 145.92,389.17 146.01,390.00 146.10,390.83 146.18,391.67 146.27,392.50 146.37,393.33 146.49,394.17 146.66,395.00 146.87,395.83 147.13,396.67 147.41,397.50 147.70,398.33 147.99,399.17 148.26,400.00 148.51,400.83 148.76,401.67 149.00,402.50 149.24,403.33 149.48,404.17 149.71,405.00 149.94,405.84 150.18,406.70 150.41,407.56 150.63,408.41 150.84,409.22 151.01,410.00 151.14,410.70 151.24,411.33 151.32,411.94 151.40,412.56 151.49,413.23 151.61,414.00 151.77,414.90 151.96,415.89 152.16,416.94 152.36,418.00 152.55,419.03 152.71,420.00 152.85,420.90 152.97,421.78 153.08,422.62 153.17,423.44 153.25,424.24 153.31,425.00 153.35,425.74 153.37,426.44 153.38,427.12 153.37,427.78 153.35,428.40 153.31,429.00 153.25,429.55 153.18,430.04 153.08,430.50 152.99,430.96 152.89,431.45 152.81,432.00 152.73,432.61 152.64,433.26 152.55,433.94 152.48,434.63 152.43,435.32 152.41,436.00 152.45,436.68 152.53,437.39 152.63,438.09 152.74,438.78 152.82,439.42 152.86,440.00 152.86,440.50 152.83,440.94 152.78,441.34 152.70,441.72 152.62,442.10 152.51,442.50 152.38,442.89 152.22,443.24 152.04,443.59 151.86,443.98 151.68,444.44 151.51,445.00 151.36,445.69 151.22,446.48 151.08,447.34 150.95,448.24 150.81,449.14 150.66,450.00 150.51,450.83 150.35,451.67 150.19,452.50 150.02,453.33 149.85,454.17 149.66,455.00 149.46,455.83 149.25,456.67 149.03,457.50 148.80,458.33 148.58,459.17 148.36,460.00 148.15,460.83 147.94,461.67 147.73,462.50 147.52,463.33 147.31,464.17 147.11,465.00 146.90,465.83 146.68,466.67 146.47,467.50 146.26,468.33 146.07,469.17 145.91,470.00 145.78,470.83 145.67,471.67 145.58,472.50 145.50,473.33 145.43,474.17 145.36,475.00 145.30,475.78 145.25,476.48 145.21,477.19 145.18,477.96 145.15,478.88 145.11,480.00 145.07,481.38 145.04,482.96 145.00,484.69 144.97,486.48 144.94,488.28 144.91,490.00 144.88,491.59 144.85,493.09 144.82,494.59 144.80,496.18 144.78,497.95 144.76,500.00 144.76,502.58 144.76,505.66 144.76,508.93 144.76,512.05 144.76,514.72 144.76,516.60 144.76,516.60 144.76,514.72 144.76,512.05 144.76,508.93 144.76,505.66 144.76,502.58 144.76,500.00 144.74,497.95 144.72,496.18 144.70,494.59 144.67,493.09 144.64,491.59 144.61,490.00 144.58,488.28 144.55,486.48 144.52,484.69 144.48,482.96 144.45,481.38 144.41,480.00 144.37,478.88 144.34,477.96 144.31,477.19 144.27,476.48 144.22,475.78 144.16,475.00 144.09,474.17 144.02,473.33 143.94,472.50 143.85,471.67 143.74,470.83 143.61,470.00 143.45,469.17 143.26,468.33 143.05,467.50 142.84,466.67 142.62,465.83 142.41,465.00 142.21,464.17 142.00,463.33 141.79,462.50 141.58,461.67 141.37,460.83 141.16,460.00 140.94,459.17 140.72,458.33 140.49,457.50 140.27,456.67 140.06,455.83 139.86,455.00 139.67,454.17 139.50,453.33 139.33,452.50 139.17,451.67 139.01,450.83 138.86,450.00 138.71,449.14 138.57,448.24 138.44,447.34 138.30,446.48 138.16,445.69 138.01,445.00 137.84,444.44 137.66,443.98 137.48,443.59 137.30,443.24 137.14,442.89 137.01,442.50 136.90,442.10 136.82,441.72 136.74,441.34 136.69,440.94 136.66,440.50 136.66,440.00 136.70,439.42 136.78,438.78 136.89,438.09 136.99,437.39 137.07,436.68 137.11,436.00 137.09,435.32 137.04,434.63 136.97,433.94 136.88,433.26 136.79,432.61 136.71,432.00 136.63,431.45 136.53,430.96 136.44,430.50 136.34,430.04 136.27,429.55 136.21,429.00 136.17,428.40 136.15,427.78 136.14,427.12 136.15,426.44 136.17,425.74 136.21,425.00 136.27,424.24 136.35,423.44 136.44,422.62 136.55,421.78 136.67,420.90 136.81,420.00 136.97,419.03 137.16,418.00 137.36,416.94 137.56,415.89 137.75,414.90 137.91,414.00 138.03,413.23 138.12,412.56 138.20,411.94 138.28,411.33 138.38,410.70 138.51,410.00 138.68,409.22 138.89,408.41 139.11,407.56 139.34,406.70 139.58,405.84 139.81,405.00 140.04,404.17 140.28,403.33 140.52,402.50 140.76,401.67 141.01,400.83 141.26,400.00 141.53,399.17 141.82,398.33 142.11,397.50 142.39,396.67 142.65,395.83 142.86,395.00 143.03,394.17 143.15,393.33 143.25,392.50 143.34,391.67 143.42,390.83 143.51,390.00 143.60,389.17 143.70,388.33 143.78,387.50 143.87,386.67 143.94,385.83 144.01,385.00 144.07,384.17 144.12,383.33 144.17,382.50 144.20,381.67 144.24,380.83 144.26,380.00 144.27,379.22 144.26,378.52 144.24,377.81 144.23,377.04 144.23,376.12 144.26,375.00 144.32,373.63 144.41,372.05 144.51,370.33 144.61,368.54 144.70,366.74 144.76,365.00 144.76,363.18 144.76,361.21 144.76,359.22 144.76,357.38 144.76,355.82 144.76,354.70" fill="#ffc2a5" stroke="#ff9015" stroke-width="1.4" stroke-linejoin="round"/>
<line x1="138.16" y1="414.30" x2="151.36" y2="414.30" stroke="#555" stroke-width="1.0" />
<line x1="137.31" y1="442.50" x2="152.21" y2="442.50" stroke="#555" stroke-width="1.0" />
<line x1="136.50" y1="428.80" x2="153.02" y2="428.80" stroke="#111" stroke-width="1.6" />
<polygon points="173.84,343.40 173.84,346.49 173.84,350.91 173.84,356.07 173.84,361.38 173.84,366.22 173.84,370.00 173.91,372.69 174.01,374.75 174.12,376.35 174.24,377.65 174.35,378.81 174.44,380.00 174.51,381.12 174.56,382.04 174.61,382.81 174.65,383.52 174.70,384.22 174.74,385.00 174.78,385.83 174.80,386.67 174.83,387.50 174.86,388.33 174.91,389.17 174.99,390.00 175.09,390.83 175.22,391.67 175.36,392.50 175.51,393.33 175.67,394.17 175.84,395.00 176.02,395.83 176.21,396.67 176.41,397.50 176.61,398.33 176.80,399.17 176.99,400.00 177.17,400.83 177.34,401.67 177.51,402.50 177.67,403.33 177.83,404.17 177.99,405.00 178.15,405.83 178.32,406.67 178.48,407.50 178.64,408.33 178.78,409.17 178.89,410.00 178.97,410.83 179.02,411.67 179.05,412.50 179.08,413.33 179.12,414.17 179.19,415.00 179.29,415.83 179.42,416.67 179.56,417.50 179.71,418.33 179.85,419.17 179.99,420.00 180.12,420.83 180.25,421.67 180.37,422.50 180.50,423.33 180.62,424.17 180.74,425.00 180.86,425.83 180.98,426.67 181.09,427.50 181.20,428.33 181.32,429.17 181.44,430.00 181.57,430.83 181.70,431.67 181.84,432.50 181.97,433.33 182.09,434.17 182.19,435.00 182.27,435.83 182.34,436.67 182.39,437.50 182.44,438.33 182.47,439.17 182.49,440.00 182.50,440.86 182.50,441.76 182.49,442.66 182.46,443.52 182.43,444.31 182.39,445.00 182.34,445.56 182.27,446.02 182.19,446.41 182.11,446.76 182.02,447.11 181.94,447.50 181.87,447.89 181.81,448.24 181.75,448.59 181.68,448.98 181.58,449.44 181.44,450.00 181.25,450.69 181.03,451.48 180.77,452.34 180.50,453.24 180.24,454.14 179.99,455.00 179.75,455.83 179.52,456.67 179.29,457.50 179.06,458.33 178.83,459.17 178.59,460.00 178.35,460.83 178.10,461.67 177.85,462.50 177.59,463.33 177.34,464.17 177.09,465.00 176.83,465.83 176.57,466.67 176.31,467.50 176.05,468.33 175.81,469.17 175.59,470.00 175.39,470.83 175.20,471.67 175.02,472.50 174.86,473.33 174.72,474.17 174.59,475.00 174.49,475.78 174.40,476.48 174.34,477.19 174.29,477.96 174.24,478.88 174.19,480.00 174.14,481.38 174.11,482.96 174.07,484.69 174.05,486.48 174.02,488.28 173.99,490.00 173.96,491.51 173.93,492.84 173.90,494.17 173.88,495.68 173.86,497.56 173.84,500.00 173.84,503.38 173.84,507.64 173.84,512.27 173.84,516.77 173.84,520.61 173.84,523.30 173.84,523.30 173.84,520.61 173.84,516.77 173.84,512.27 173.84,507.64 173.84,503.38 173.84,500.00 173.82,497.56 173.80,495.68 173.78,494.17 173.75,492.84 173.72,491.51 173.69,490.00 173.66,488.28 173.63,486.48 173.61,484.69 173.57,482.96 173.54,481.38 173.49,480.00 173.44,478.88 173.39,477.96 173.34,477.19 173.28,476.48 173.19,475.78 173.09,475.00 172.96,474.17 172.82,473.33 172.66,472.50 172.48,471.67 172.29,470.83 172.09,470.00 171.87,469.17 171.63,468.33 171.37,467.50 171.11,466.67 170.85,465.83 170.59,465.00 170.34,464.17 170.09,463.33 169.83,462.50 169.58,461.67 169.33,460.83 169.09,460.00 168.85,459.17 168.62,458.33 168.39,457.50 168.16,456.67 167.93,455.83 167.69,455.00 167.44,454.14 167.18,453.24 166.91,452.34 166.65,451.48 166.43,450.69 166.24,450.00 166.10,449.44 166.00,448.98 165.93,448.59 165.87,448.24 165.81,447.89 165.74,447.50 165.66,447.11 165.57,446.76 165.49,446.41 165.41,446.02 165.34,445.56 165.29,445.00 165.25,444.31 165.22,443.52 165.19,442.66 165.18,441.76 165.18,440.86 165.19,440.00 165.21,439.17 165.24,438.33 165.29,437.50 165.34,436.67 165.41,435.83 165.49,435.00 165.59,434.17 165.71,433.33 165.84,432.50 165.98,431.67 166.11,430.83 166.24,430.00 166.36,429.17 166.48,428.33 166.59,427.50 166.70,426.67 166.82,425.83 166.94,425.00 167.06,424.17 167.18,423.33 167.31,422.50 167.43,421.67 167.56,420.83 167.69,420.00 167.83,419.17 167.97,418.33 168.12,417.50 168.26,416.67 168.39,415.83 168.49,415.00 168.56,414.17 168.60,413.33 168.63,412.50 168.66,411.67 168.71,410.83 168.79,410.00 168.90,409.17 169.04,408.33 169.20,407.50 169.36,406.67 169.53,405.83 169.69,405.00 169.85,404.17 170.01,403.33 170.17,402.50 170.34,401.67 170.51,400.83 170.69,400.00 170.88,399.17 171.07,398.33 171.27,397.50 171.47,396.67 171.66,395.83 171.84,395.00 172.01,394.17 172.17,393.33 172.32,392.50 172.46,391.67 172.59,390.83 172.69,390.00 172.77,389.17 172.82,388.33 172.85,387.50 172.88,386.67 172.90,385.83 172.94,385.00 172.98,384.22 173.03,383.52 173.07,382.81 173.12,382.04 173.17,381.12 173.24,380.00 173.33,378.81 173.44,377.65 173.56,376.35 173.67,374.75 173.77,372.69 173.84,370.00 173.84,366.22 173.84,361.38 173.84,356.07 173.84,350.91 173.84,346.49 173.84,343.40" fill="#d892dc" stroke="#a957e0" stroke-width="1.4" stroke-linejoin="round"/>
<line x1="168.50" y1="417.00" x2="179.18" y2="417.00" stroke="#555" stroke-width="1.0" />
<line x1="166.04" y1="447.50" x2="181.64" y2="447.50" stroke="#555" stroke-width="1.0" />
<line x1="166.01" y1="433.30" x2="181.67" y2="433.30" stroke="#111" stroke-width="1.6" />
<polygon points="202.92,356.70 202.92,358.79 202.92,361.75 202.92,365.22 202.92,368.84 202.92,372.22 202.92,375.00 202.96,377.20 203.01,379.13 203.08,380.83 203.15,382.34 203.21,383.72 203.27,385.00 203.31,386.12 203.35,387.04 203.38,387.81 203.42,388.52 203.46,389.22 203.52,390.00 203.59,390.83 203.67,391.67 203.76,392.50 203.85,393.33 203.96,394.17 204.07,395.00 204.19,395.83 204.33,396.67 204.48,397.50 204.63,398.33 204.77,399.17 204.92,400.00 205.06,400.83 205.20,401.67 205.34,402.50 205.48,403.33 205.63,404.17 205.77,405.00 205.92,405.83 206.08,406.67 206.23,407.50 206.39,408.33 206.53,409.17 206.67,410.00 206.79,410.83 206.90,411.67 207.01,412.50 207.11,413.33 207.21,414.17 207.32,415.00 207.43,415.83 207.55,416.67 207.66,417.50 207.78,418.33 207.90,419.17 208.02,420.00 208.14,420.83 208.27,421.67 208.40,422.50 208.53,423.33 208.66,424.17 208.77,425.00 208.87,425.83 208.97,426.67 209.05,427.50 209.14,428.33 209.23,429.17 209.32,430.00 209.42,430.83 209.52,431.67 209.62,432.50 209.72,433.33 209.82,434.17 209.92,435.00 210.02,435.83 210.12,436.67 210.22,437.50 210.32,438.33 210.42,439.17 210.52,440.00 210.63,440.86 210.74,441.74 210.86,442.62 210.97,443.48 211.08,444.28 211.17,445.00 211.25,445.63 211.33,446.19 211.41,446.69 211.47,447.15 211.51,447.58 211.52,448.00 211.50,448.39 211.45,448.72 211.38,449.03 211.31,449.33 211.23,449.65 211.17,450.00 211.13,450.39 211.10,450.80 211.07,451.22 211.04,451.65 210.99,452.08 210.92,452.50 210.83,452.89 210.73,453.24 210.61,453.59 210.48,453.98 210.34,454.44 210.17,455.00 209.98,455.69 209.77,456.48 209.54,457.34 209.30,458.24 209.06,459.14 208.82,460.00 208.59,460.83 208.35,461.67 208.12,462.50 207.88,463.33 207.63,464.17 207.37,465.00 207.10,465.83 206.82,466.67 206.54,467.50 206.25,468.33 205.96,469.17 205.67,470.00 205.37,470.83 205.06,471.67 204.75,472.50 204.46,473.33 204.19,474.17 203.97,475.00 203.80,475.78 203.67,476.48 203.58,477.19 203.50,477.96 203.43,478.88 203.37,480.00 203.31,481.38 203.28,482.96 203.25,484.69 203.23,486.48 203.20,488.28 203.17,490.00 203.13,491.46 203.08,492.67 203.03,493.88 202.99,495.33 202.95,497.29 202.92,500.00 202.92,503.95 202.92,509.04 202.92,514.62 202.92,520.07 202.92,524.75 202.92,528.00 202.92,528.00 202.92,524.75 202.92,520.07 202.92,514.62 202.92,509.04 202.92,503.95 202.92,500.00 202.89,497.29 202.85,495.33 202.81,493.88 202.76,492.67 202.71,491.46 202.67,490.00 202.64,488.28 202.61,486.48 202.59,484.69 202.56,482.96 202.53,481.38 202.47,480.00 202.41,478.88 202.34,477.96 202.26,477.19 202.17,476.48 202.04,475.78 201.87,475.00 201.65,474.17 201.38,473.33 201.09,472.50 200.78,471.67 200.47,470.83 200.17,470.00 199.88,469.17 199.59,468.33 199.30,467.50 199.02,466.67 198.74,465.83 198.47,465.00 198.21,464.17 197.96,463.33 197.72,462.50 197.49,461.67 197.25,460.83 197.02,460.00 196.78,459.14 196.54,458.24 196.30,457.34 196.07,456.48 195.86,455.69 195.67,455.00 195.50,454.44 195.36,453.98 195.23,453.59 195.11,453.24 195.01,452.89 194.92,452.50 194.85,452.08 194.80,451.65 194.77,451.22 194.74,450.80 194.71,450.39 194.67,450.00 194.61,449.65 194.53,449.33 194.46,449.03 194.39,448.72 194.34,448.39 194.32,448.00 194.33,447.58 194.37,447.15 194.43,446.69 194.51,446.19 194.59,445.63 194.67,445.00 194.76,444.28 194.87,443.48 194.98,442.62 195.10,441.74 195.21,440.86 195.32,440.00 195.42,439.17 195.52,438.33 195.62,437.50 195.72,436.67 195.82,435.83 195.92,435.00 196.02,434.17 196.12,433.33 196.22,432.50 196.32,431.67 196.42,430.83 196.52,430.00 196.61,429.17 196.70,428.33 196.79,427.50 196.87,426.67 196.97,425.83 197.07,425.00 197.18,424.17 197.31,423.33 197.44,422.50 197.57,421.67 197.70,420.83 197.82,420.00 197.94,419.17 198.06,418.33 198.18,417.50 198.29,416.67 198.41,415.83 198.52,415.00 198.63,414.17 198.73,413.33 198.83,412.50 198.94,411.67 199.05,410.83 199.17,410.00 199.31,409.17 199.45,408.33 199.61,407.50 199.76,406.67 199.92,405.83 200.07,405.00 200.21,404.17 200.36,403.33 200.50,402.50 200.64,401.67 200.78,400.83 200.92,400.00 201.07,399.17 201.21,398.33 201.36,397.50 201.51,396.67 201.65,395.83 201.77,395.00 201.88,394.17 201.99,393.33 202.08,392.50 202.17,391.67 202.25,390.83 202.32,390.00 202.38,389.22 202.42,388.52 202.46,387.81 202.49,387.04 202.53,386.12 202.57,385.00 202.63,383.72 202.69,382.34 202.76,380.83 202.83,379.13 202.88,377.20 202.92,375.00 202.92,372.22 202.92,368.84 202.92,365.22 202.92,361.75 202.92,358.79 202.92,356.70" fill="#b9c8eb" stroke="#1a6ee0" stroke-width="1.4" stroke-linejoin="round"/>
<line x1="197.48" y1="424.20" x2="208.36" y2="424.20" stroke="#555" stroke-width="1.0" />
<line x1="195.22" y1="452.50" x2="210.62" y2="452.50" stroke="#555" stroke-width="1.0" />
<line x1="195.62" y1="440.00" x2="210.22" y2="440.00" stroke="#111" stroke-width="1.6" />
<polygon points="232.00,345.60 232.00,348.42 232.00,352.46 232.00,357.18 232.00,362.03 232.00,366.48 232.00,370.00 232.05,372.56 232.12,374.59 232.21,376.21 232.29,377.57 232.38,378.79 232.45,380.00 232.51,381.12 232.56,382.04 232.61,382.81 232.66,383.52 232.70,384.22 232.75,385.00 232.80,385.83 232.84,386.67 232.87,387.50 232.92,388.33 232.98,389.17 233.05,390.00 233.14,390.83 233.24,391.67 233.36,392.50 233.48,393.33 233.61,394.17 233.75,395.00 233.90,395.83 234.06,396.67 234.23,397.50 234.41,398.33 234.58,399.17 234.75,400.00 234.92,400.83 235.09,401.67 235.27,402.50 235.44,403.33 235.60,404.17 235.75,405.00 235.88,405.83 236.00,406.67 236.11,407.50 236.22,408.33 236.33,409.17 236.45,410.00 236.58,410.83 236.71,411.67 236.84,412.50 236.98,413.33 237.12,414.17 237.25,415.00 237.38,415.83 237.52,416.67 237.66,417.50 237.79,418.33 237.92,419.17 238.05,420.00 238.17,420.83 238.29,421.67 238.41,422.50 238.52,423.33 238.63,424.17 238.75,425.00 238.87,425.83 238.98,426.67 239.09,427.50 239.21,428.33 239.33,429.17 239.45,430.00 239.58,430.83 239.72,431.67 239.87,432.50 240.01,433.33 240.14,434.17 240.25,435.00 240.36,435.83 240.46,436.67 240.56,437.50 240.64,438.33 240.69,439.17 240.70,440.00 240.67,440.83 240.61,441.67 240.52,442.50 240.41,443.33 240.29,444.17 240.15,445.00 239.99,445.83 239.81,446.67 239.61,447.50 239.40,448.33 239.20,449.17 239.00,450.00 238.82,450.83 238.64,451.67 238.47,452.50 238.29,453.33 238.10,454.17 237.90,455.00 237.68,455.83 237.45,456.67 237.21,457.50 236.96,458.33 236.71,459.17 236.45,460.00 236.18,460.83 235.90,461.67 235.61,462.50 235.32,463.33 235.03,464.17 234.75,465.00 234.47,465.83 234.18,466.67 233.89,467.50 233.61,468.33 233.36,469.17 233.15,470.00 232.98,470.83 232.83,471.67 232.71,472.50 232.61,473.33 232.53,474.17 232.45,475.00 232.39,475.78 232.34,476.48 232.31,477.19 232.29,477.96 232.27,478.88 232.25,480.00 232.23,481.38 232.21,482.96 232.20,484.69 232.18,486.48 232.17,488.28 232.15,490.00 232.13,491.49 232.10,492.76 232.07,494.03 232.04,495.52 232.02,497.44 232.00,500.00 232.00,503.65 232.00,508.30 232.00,513.38 232.00,518.31 232.00,522.55 232.00,525.50 232.00,525.50 232.00,522.55 232.00,518.31 232.00,513.38 232.00,508.30 232.00,503.65 232.00,500.00 231.98,497.44 231.96,495.52 231.93,494.03 231.90,492.76 231.87,491.49 231.85,490.00 231.83,488.28 231.82,486.48 231.80,484.69 231.79,482.96 231.77,481.38 231.75,480.00 231.73,478.88 231.71,477.96 231.69,477.19 231.66,476.48 231.61,475.78 231.55,475.00 231.47,474.17 231.39,473.33 231.29,472.50 231.17,471.67 231.02,470.83 230.85,470.00 230.64,469.17 230.39,468.33 230.11,467.50 229.82,466.67 229.53,465.83 229.25,465.00 228.97,464.17 228.68,463.33 228.39,462.50 228.10,461.67 227.82,460.83 227.55,460.00 227.29,459.17 227.04,458.33 226.79,457.50 226.55,456.67 226.32,455.83 226.10,455.00 225.90,454.17 225.71,453.33 225.53,452.50 225.36,451.67 225.18,450.83 225.00,450.00 224.80,449.17 224.60,448.33 224.39,447.50 224.19,446.67 224.01,445.83 223.85,445.00 223.71,444.17 223.59,443.33 223.47,442.50 223.39,441.67 223.33,440.83 223.30,440.00 223.31,439.17 223.36,438.33 223.44,437.50 223.54,436.67 223.64,435.83 223.75,435.00 223.86,434.17 223.99,433.33 224.13,432.50 224.28,431.67 224.42,430.83 224.55,430.00 224.67,429.17 224.79,428.33 224.91,427.50 225.02,426.67 225.13,425.83 225.25,425.00 225.37,424.17 225.48,423.33 225.59,422.50 225.71,421.67 225.83,420.83 225.95,420.00 226.08,419.17 226.21,418.33 226.34,417.50 226.48,416.67 226.62,415.83 226.75,415.00 226.88,414.17 227.02,413.33 227.16,412.50 227.29,411.67 227.42,410.83 227.55,410.00 227.67,409.17 227.78,408.33 227.89,407.50 228.00,406.67 228.12,405.83 228.25,405.00 228.40,404.17 228.56,403.33 228.73,402.50 228.91,401.67 229.08,400.83 229.25,400.00 229.42,399.17 229.59,398.33 229.77,397.50 229.94,396.67 230.10,395.83 230.25,395.00 230.39,394.17 230.52,393.33 230.64,392.50 230.76,391.67 230.86,390.83 230.95,390.00 231.02,389.17 231.08,388.33 231.12,387.50 231.16,386.67 231.20,385.83 231.25,385.00 231.30,384.22 231.34,383.52 231.39,382.81 231.44,382.04 231.49,381.12 231.55,380.00 231.62,378.79 231.71,377.57 231.79,376.21 231.88,374.59 231.95,372.56 232.00,370.00 232.00,366.48 232.00,362.03 232.00,357.18 232.00,352.46 232.00,348.42 232.00,345.60" fill="#ffb9c3" stroke="#ff3c3c" stroke-width="1.4" stroke-linejoin="round"/>
<line x1="226.48" y1="418.50" x2="237.52" y2="418.50" stroke="#555" stroke-width="1.0" />
<line x1="224.69" y1="447.50" x2="239.31" y2="447.50" stroke="#555" stroke-width="1.0" />
<line x1="224.15" y1="434.30" x2="239.85" y2="434.30" stroke="#111" stroke-width="1.6" />
<line x1="406.35" y1="294.90" x2="406.35" y2="535.10" stroke="#111" stroke-width="1.4" />
<line x1="401.95" y1="534.50" x2="406.35" y2="534.50" stroke="#111" stroke-width="1.4" />
<text x="393.90" y="541.50" font-size="10.5" text-anchor="end" fill="#1a1a1a" stroke="#1a1a1a" stroke-width="0.12" >0</text>
<line x1="401.95" y1="510.60" x2="406.35" y2="510.60" stroke="#111" stroke-width="1.4" />
<text x="393.90" y="517.60" font-size="10.5" text-anchor="end" fill="#1a1a1a" stroke="#1a1a1a" stroke-width="0.12" >10</text>
<line x1="401.95" y1="486.70" x2="406.35" y2="486.70" stroke="#111" stroke-width="1.4" />
<text x="393.90" y="493.70" font-size="10.5" text-anchor="end" fill="#1a1a1a" stroke="#1a1a1a" stroke-width="0.12" >20</text>
<line x1="401.95" y1="462.80" x2="406.35" y2="462.80" stroke="#111" stroke-width="1.4" />
<text x="393.90" y="469.80" font-size="10.5" text-anchor="end" fill="#1a1a1a" stroke="#1a1a1a" stroke-width="0.12" >30</text>
<line x1="401.95" y1="438.90" x2="406.35" y2="438.90" stroke="#111" stroke-width="1.4" />
<text x="393.90" y="445.90" font-size="10.5" text-anchor="end" fill="#1a1a1a" stroke="#1a1a1a" stroke-width="0.12" >40</text>
<line x1="401.95" y1="415.00" x2="406.35" y2="415.00" stroke="#111" stroke-width="1.4" />
<text x="393.90" y="422.00" font-size="10.5" text-anchor="end" fill="#1a1a1a" stroke="#1a1a1a" stroke-width="0.12" >50</text>
<line x1="401.95" y1="391.10" x2="406.35" y2="391.10" stroke="#111" stroke-width="1.4" />
<text x="393.90" y="398.10" font-size="10.5" text-anchor="end" fill="#1a1a1a" stroke="#1a1a1a" stroke-width="0.12" >60</text>
<line x1="401.95" y1="367.20" x2="406.35" y2="367.20" stroke="#111" stroke-width="1.4" />
<text x="393.90" y="374.20" font-size="10.5" text-anchor="end" fill="#1a1a1a" stroke="#1a1a1a" stroke-width="0.12" >70</text>
<line x1="401.95" y1="343.30" x2="406.35" y2="343.30" stroke="#111" stroke-width="1.4" />
<text x="393.90" y="350.30" font-size="10.5" text-anchor="end" fill="#1a1a1a" stroke="#1a1a1a" stroke-width="0.12" >80</text>
<line x1="401.95" y1="319.40" x2="406.35" y2="319.40" stroke="#111" stroke-width="1.4" />
<text x="393.90" y="326.40" font-size="10.5" text-anchor="end" fill="#1a1a1a" stroke="#1a1a1a" stroke-width="0.12" >90</text>
<line x1="401.95" y1="295.50" x2="406.35" y2="295.50" stroke="#111" stroke-width="1.4" />
<text x="393.90" y="302.50" font-size="10.5" text-anchor="end" fill="#1a1a1a" stroke="#1a1a1a" stroke-width="0.12" >100</text>
<line x1="405.75" y1="534.50" x2="538.00" y2="534.50" stroke="#111" stroke-width="1.4" />
<line x1="426.60" y1="534.50" x2="426.60" y2="539.50" stroke="#111" stroke-width="1.4" />
<line x1="457.10" y1="534.50" x2="457.10" y2="539.50" stroke="#111" stroke-width="1.4" />
<line x1="487.60" y1="534.50" x2="487.60" y2="539.50" stroke="#111" stroke-width="1.4" />
<line x1="517.90" y1="534.50" x2="517.90" y2="539.50" stroke="#111" stroke-width="1.4" />
<text transform="translate(428.60,547.50) rotate(-45)" font-size="11.2" text-anchor="end" fill="#1a1a1a" stroke="#1a1a1a" stroke-width="0.12">MRC</text>
<text transform="translate(460.50,547.40) rotate(-45)" font-size="11.2" text-anchor="end" fill="#1a1a1a" stroke="#1a1a1a" stroke-width="0.12">MVV in CPT3</text>
<text transform="translate(490.40,547.10) rotate(-45)" font-size="11.2" text-anchor="end" fill="#1a1a1a" stroke="#1a1a1a" stroke-width="0.12">MVV in LKO1</text>
<text transform="translate(525.10,549.30) rotate(-45)" font-size="11.2" text-anchor="end" fill="#1a1a1a" stroke="#1a1a1a" stroke-width="0.12">MVV in LHKO2</text>
<text transform="translate(376.70,408.20) rotate(-90)" font-size="11" text-anchor="middle" fill="#1a1a1a" stroke="#1a1a1a" stroke-width="0.12">Local GC content</text>
<polygon points="426.60,323.00 426.60,328.54 426.60,336.56 426.60,345.88 426.60,355.33 426.60,363.76 426.60,370.00 426.65,373.81 426.71,376.07 426.79,377.31 426.87,378.04 426.94,378.76 427.00,380.00 427.04,381.72 427.08,383.52 427.11,385.31 427.13,387.04 427.16,388.62 427.20,390.00 427.24,391.12 427.27,392.04 427.31,392.81 427.36,393.52 427.42,394.22 427.50,395.00 427.61,395.83 427.74,396.67 427.88,397.50 428.04,398.33 428.19,399.17 428.35,400.00 428.51,400.83 428.67,401.67 428.84,402.50 429.01,403.33 429.18,404.17 429.35,405.00 429.52,405.83 429.69,406.67 429.86,407.50 430.02,408.33 430.19,409.17 430.35,410.00 430.51,410.83 430.66,411.67 430.82,412.50 430.96,413.33 431.11,414.17 431.25,415.00 431.38,415.83 431.51,416.67 431.63,417.50 431.75,418.33 431.87,419.17 432.00,420.00 432.13,420.83 432.26,421.67 432.40,422.50 432.54,423.33 432.69,424.17 432.85,425.00 433.02,425.83 433.21,426.67 433.41,427.50 433.61,428.33 433.81,429.17 434.00,430.00 434.19,430.87 434.39,431.78 434.59,432.69 434.78,433.56 434.95,434.34 435.10,435.00 435.23,435.50 435.34,435.85 435.44,436.12 435.52,436.37 435.58,436.64 435.60,437.00 435.59,437.42 435.56,437.85 435.49,438.31 435.41,438.81 435.31,439.37 435.20,440.00 435.07,440.72 434.91,441.52 434.74,442.38 434.56,443.26 434.38,444.14 434.20,445.00 434.02,445.83 433.84,446.67 433.65,447.50 433.46,448.33 433.28,449.17 433.10,450.00 432.93,450.83 432.76,451.67 432.60,452.50 432.44,453.33 432.27,454.17 432.10,455.00 431.93,455.83 431.75,456.67 431.58,457.50 431.39,458.33 431.20,459.17 431.00,460.00 430.79,460.83 430.56,461.67 430.33,462.50 430.09,463.33 429.84,464.17 429.60,465.00 429.35,465.83 429.09,466.67 428.83,467.50 428.57,468.33 428.32,469.17 428.10,470.00 427.90,470.83 427.70,471.67 427.52,472.50 427.36,473.33 427.22,474.17 427.10,475.00 427.01,475.78 426.96,476.48 426.93,477.19 426.90,477.96 426.88,478.88 426.85,480.00 426.81,481.38 426.77,482.96 426.74,484.69 426.70,486.48 426.67,488.28 426.65,490.00 426.63,491.38 426.62,492.43 426.61,493.47 426.61,494.85 426.60,496.92 426.60,500.00 426.60,504.73 426.60,510.96 426.60,517.88 426.60,524.65 426.60,530.46 426.60,534.50 426.60,534.50 426.60,530.46 426.60,524.65 426.60,517.88 426.60,510.96 426.60,504.73 426.60,500.00 426.60,496.92 426.59,494.85 426.59,493.47 426.58,492.43 426.57,491.38 426.55,490.00 426.53,488.28 426.50,486.48 426.46,484.69 426.43,482.96 426.39,481.38 426.35,480.00 426.32,478.88 426.30,477.96 426.28,477.19 426.24,476.48 426.19,475.78 426.10,475.00 425.98,474.17 425.84,473.33 425.68,472.50 425.50,471.67 425.30,470.83 425.10,470.00 424.88,469.17 424.63,468.33 424.38,467.50 424.11,466.67 423.85,465.83 423.60,465.00 423.36,464.17 423.11,463.33 422.88,462.50 422.64,461.67 422.41,460.83 422.20,460.00 422.00,459.17 421.81,458.33 421.62,457.50 421.45,456.67 421.27,455.83 421.10,455.00 420.93,454.17 420.76,453.33 420.60,452.50 420.44,451.67 420.27,450.83 420.10,450.00 419.92,449.17 419.74,448.33 419.55,447.50 419.36,446.67 419.18,445.83 419.00,445.00 418.82,444.14 418.64,443.26 418.46,442.38 418.29,441.52 418.13,440.72 418.00,440.00 417.89,439.37 417.79,438.81 417.71,438.31 417.64,437.85 417.61,437.42 417.60,437.00 417.62,436.64 417.68,436.37 417.76,436.12 417.86,435.85 417.97,435.50 418.10,435.00 418.25,434.34 418.42,433.56 418.61,432.69 418.81,431.78 419.01,430.87 419.20,430.00 419.39,429.17 419.59,428.33 419.79,427.50 419.99,426.67 420.18,425.83 420.35,425.00 420.51,424.17 420.66,423.33 420.80,422.50 420.94,421.67 421.07,420.83 421.20,420.00 421.33,419.17 421.45,418.33 421.57,417.50 421.69,416.67 421.82,415.83 421.95,415.00 422.09,414.17 422.24,413.33 422.38,412.50 422.54,411.67 422.69,410.83 422.85,410.00 423.01,409.17 423.18,408.33 423.34,407.50 423.51,406.67 423.68,405.83 423.85,405.00 424.02,404.17 424.19,403.33 424.36,402.50 424.53,401.67 424.69,400.83 424.85,400.00 425.01,399.17 425.16,398.33 425.32,397.50 425.46,396.67 425.59,395.83 425.70,395.00 425.78,394.22 425.84,393.52 425.89,392.81 425.93,392.04 425.96,391.12 426.00,390.00 426.04,388.62 426.07,387.04 426.09,385.31 426.12,383.52 426.16,381.72 426.20,380.00 426.26,378.76 426.33,378.04 426.41,377.31 426.49,376.07 426.55,373.81 426.60,370.00 426.60,363.76 426.60,355.33 426.60,345.88 426.60,336.56 426.60,328.54 426.60,323.00" fill="#e9e9e9" stroke="#a6a6a6" stroke-width="1.4" stroke-linejoin="round"/>
<line x1="421.10" y1="422.50" x2="432.10" y2="422.50" stroke="#555" stroke-width="1.0" />
<line x1="420.50" y1="450.50" x2="432.70" y2="450.50" stroke="#555" stroke-width="1.0" />
<line x1="417.90" y1="437.00" x2="435.30" y2="437.00" stroke="#111" stroke-width="1.6" />
<polygon points="457.10,349.60 457.10,351.94 457.10,355.27 457.10,359.18 457.10,363.21 457.10,366.97 457.10,370.00 457.14,372.27 457.21,374.10 457.28,375.65 457.35,377.05 457.41,378.45 457.45,380.00 457.45,381.67 457.43,383.33 457.39,385.00 457.36,386.67 457.34,388.33 457.35,390.00 457.40,391.72 457.47,393.52 457.56,395.31 457.65,397.04 457.75,398.62 457.85,400.00 457.94,401.12 458.04,402.04 458.14,402.81 458.24,403.52 458.34,404.22 458.45,405.00 458.56,405.83 458.68,406.67 458.79,407.50 458.91,408.33 459.03,409.17 459.15,410.00 459.27,410.83 459.40,411.67 459.53,412.50 459.65,413.33 459.76,414.17 459.85,415.00 459.92,415.83 459.96,416.67 459.99,417.50 460.03,418.33 460.08,419.17 460.15,420.00 460.25,420.83 460.38,421.67 460.52,422.50 460.67,423.33 460.81,424.17 460.95,425.00 461.08,425.83 461.20,426.67 461.33,427.50 461.45,428.33 461.58,429.17 461.70,430.00 461.82,430.83 461.95,431.67 462.07,432.50 462.20,433.33 462.32,434.17 462.45,435.00 462.57,435.80 462.68,436.56 462.80,437.31 462.92,438.11 463.07,438.99 463.25,440.00 463.48,441.17 463.75,442.48 464.05,443.88 464.34,445.30 464.62,446.69 464.85,448.00 465.05,449.25 465.25,450.48 465.43,451.69 465.57,452.85 465.67,453.96 465.70,455.00 465.67,455.95 465.58,456.81 465.44,457.62 465.26,458.41 465.06,459.19 464.85,460.00 464.61,460.83 464.34,461.67 464.05,462.50 463.74,463.33 463.42,464.17 463.10,465.00 462.78,465.83 462.46,466.67 462.12,467.50 461.78,468.33 461.44,469.17 461.10,470.00 460.75,470.83 460.38,471.67 460.01,472.50 459.65,473.33 459.31,474.17 459.00,475.00 458.71,475.78 458.44,476.48 458.19,477.19 457.96,477.96 457.76,478.88 457.60,480.00 457.48,481.38 457.40,482.96 457.35,484.69 457.31,486.48 457.28,488.28 457.25,490.00 457.21,491.38 457.18,492.43 457.15,493.47 457.13,494.85 457.11,496.92 457.10,500.00 457.10,504.73 457.10,510.96 457.10,517.88 457.10,524.65 457.10,530.46 457.10,534.50 457.10,534.50 457.10,530.46 457.10,524.65 457.10,517.88 457.10,510.96 457.10,504.73 457.10,500.00 457.09,496.92 457.07,494.85 457.05,493.47 457.02,492.43 456.99,491.38 456.95,490.00 456.92,488.28 456.89,486.48 456.85,484.69 456.80,482.96 456.72,481.38 456.60,480.00 456.44,478.88 456.24,477.96 456.01,477.19 455.76,476.48 455.49,475.78 455.20,475.00 454.89,474.17 454.55,473.33 454.19,472.50 453.82,471.67 453.45,470.83 453.10,470.00 452.76,469.17 452.42,468.33 452.08,467.50 451.74,466.67 451.42,465.83 451.10,465.00 450.78,464.17 450.46,463.33 450.15,462.50 449.86,461.67 449.59,460.83 449.35,460.00 449.14,459.19 448.94,458.41 448.76,457.62 448.62,456.81 448.53,455.95 448.50,455.00 448.53,453.96 448.63,452.85 448.77,451.69 448.95,450.48 449.15,449.25 449.35,448.00 449.58,446.69 449.86,445.30 450.15,443.88 450.45,442.48 450.72,441.17 450.95,440.00 451.13,438.99 451.28,438.11 451.40,437.31 451.52,436.56 451.63,435.80 451.75,435.00 451.88,434.17 452.00,433.33 452.13,432.50 452.25,431.67 452.38,430.83 452.50,430.00 452.62,429.17 452.75,428.33 452.87,427.50 453.00,426.67 453.12,425.83 453.25,425.00 453.39,424.17 453.53,423.33 453.68,422.50 453.82,421.67 453.95,420.83 454.05,420.00 454.12,419.17 454.17,418.33 454.21,417.50 454.24,416.67 454.28,415.83 454.35,415.00 454.44,414.17 454.55,413.33 454.68,412.50 454.80,411.67 454.93,410.83 455.05,410.00 455.17,409.17 455.29,408.33 455.41,407.50 455.52,406.67 455.64,405.83 455.75,405.00 455.86,404.22 455.96,403.52 456.06,402.81 456.16,402.04 456.26,401.12 456.35,400.00 456.45,398.62 456.55,397.04 456.64,395.31 456.73,393.52 456.80,391.72 456.85,390.00 456.86,388.33 456.84,386.67 456.81,385.00 456.77,383.33 456.75,381.67 456.75,380.00 456.79,378.45 456.85,377.05 456.92,375.65 456.99,374.10 457.06,372.27 457.10,370.00 457.10,366.97 457.10,363.21 457.10,359.18 457.10,355.27 457.10,351.94 457.10,349.60" fill="#b5efb5" stroke="#3cc83c" stroke-width="1.4" stroke-linejoin="round"/>
<line x1="452.05" y1="435.00" x2="462.15" y2="435.00" stroke="#555" stroke-width="1.0" />
<line x1="449.60" y1="459.80" x2="464.60" y2="459.80" stroke="#555" stroke-width="1.0" />
<line x1="449.60" y1="448.30" x2="464.60" y2="448.30" stroke="#111" stroke-width="1.6" />
<polygon points="487.60,334.80 487.60,337.72 487.60,341.90 487.60,346.77 487.60,351.79 487.60,356.39 487.60,360.00 487.65,362.60 487.71,364.64 487.79,366.26 487.87,367.60 487.94,368.80 488.00,370.00 488.05,371.12 488.08,372.04 488.12,372.81 488.14,373.52 488.17,374.22 488.20,375.00 488.23,375.83 488.25,376.67 488.27,377.50 488.29,378.33 488.31,379.17 488.35,380.00 488.40,380.83 488.45,381.67 488.52,382.50 488.58,383.33 488.64,384.17 488.70,385.00 488.75,385.83 488.79,386.67 488.83,387.50 488.87,388.33 488.93,389.17 489.00,390.00 489.09,390.83 489.19,391.67 489.30,392.50 489.42,393.33 489.55,394.17 489.70,395.00 489.86,395.83 490.04,396.67 490.24,397.50 490.44,398.33 490.64,399.17 490.85,400.00 491.06,400.83 491.28,401.67 491.50,402.50 491.72,403.33 491.94,404.17 492.15,405.00 492.36,405.84 492.56,406.69 492.77,407.53 492.97,408.37 493.16,409.20 493.35,410.00 493.53,410.77 493.71,411.50 493.88,412.22 494.05,412.94 494.21,413.70 494.35,414.50 494.48,415.36 494.60,416.28 494.71,417.22 494.81,418.17 494.90,419.10 495.00,420.00 495.09,420.86 495.18,421.70 495.27,422.53 495.35,423.35 495.43,424.17 495.50,425.00 495.56,425.84 495.62,426.70 495.67,427.56 495.72,428.41 495.78,429.22 495.85,430.00 495.95,430.70 496.08,431.33 496.22,431.94 496.34,432.56 496.43,433.23 496.45,434.00 496.41,434.90 496.31,435.91 496.18,436.97 496.02,438.04 495.86,439.06 495.70,440.00 495.55,440.83 495.39,441.57 495.22,442.28 495.05,442.98 494.88,443.71 494.70,444.50 494.52,445.36 494.35,446.28 494.17,447.22 493.98,448.17 493.79,449.10 493.60,450.00 493.40,450.86 493.19,451.70 492.98,452.53 492.77,453.35 492.56,454.17 492.35,455.00 492.14,455.83 491.94,456.67 491.73,457.50 491.53,458.33 491.32,459.17 491.10,460.00 490.87,460.83 490.63,461.67 490.38,462.50 490.14,463.33 489.91,464.17 489.70,465.00 489.51,465.83 489.33,466.67 489.16,467.50 489.00,468.33 488.84,469.17 488.70,470.00 488.56,470.83 488.43,471.67 488.30,472.50 488.19,473.33 488.09,474.17 488.00,475.00 487.93,475.78 487.88,476.48 487.84,477.19 487.81,477.96 487.78,478.88 487.75,480.00 487.72,480.98 487.69,481.69 487.66,482.53 487.64,483.93 487.62,486.28 487.60,490.00 487.60,495.94 487.60,503.93 487.60,512.88 487.60,521.69 487.60,529.26 487.60,534.50 487.60,534.50 487.60,529.26 487.60,521.69 487.60,512.88 487.60,503.93 487.60,495.94 487.60,490.00 487.58,486.28 487.56,483.93 487.54,482.53 487.51,481.69 487.48,480.98 487.45,480.00 487.42,478.88 487.39,477.96 487.36,477.19 487.32,476.48 487.27,475.78 487.20,475.00 487.11,474.17 487.01,473.33 486.90,472.50 486.77,471.67 486.64,470.83 486.50,470.00 486.36,469.17 486.20,468.33 486.04,467.50 485.87,466.67 485.69,465.83 485.50,465.00 485.29,464.17 485.06,463.33 484.82,462.50 484.57,461.67 484.33,460.83 484.10,460.00 483.88,459.17 483.67,458.33 483.47,457.50 483.26,456.67 483.06,455.83 482.85,455.00 482.64,454.17 482.43,453.35 482.22,452.53 482.01,451.70 481.80,450.86 481.60,450.00 481.41,449.10 481.22,448.17 481.03,447.22 480.85,446.28 480.68,445.36 480.50,444.50 480.32,443.71 480.15,442.98 479.98,442.28 479.81,441.57 479.65,440.83 479.50,440.00 479.34,439.06 479.18,438.04 479.03,436.97 478.89,435.91 478.79,434.90 478.75,434.00 478.77,433.23 478.86,432.56 478.98,431.94 479.12,431.33 479.25,430.70 479.35,430.00 479.42,429.22 479.48,428.41 479.53,427.56 479.58,426.70 479.64,425.84 479.70,425.00 479.77,424.17 479.85,423.35 479.93,422.53 480.02,421.70 480.11,420.86 480.20,420.00 480.30,419.10 480.39,418.17 480.49,417.22 480.60,416.28 480.72,415.36 480.85,414.50 480.99,413.70 481.15,412.94 481.32,412.22 481.49,411.50 481.67,410.77 481.85,410.00 482.04,409.20 482.23,408.37 482.43,407.53 482.64,406.69 482.84,405.84 483.05,405.00 483.26,404.17 483.48,403.33 483.70,402.50 483.92,401.67 484.14,400.83 484.35,400.00 484.56,399.17 484.76,398.33 484.96,397.50 485.16,396.67 485.34,395.83 485.50,395.00 485.65,394.17 485.78,393.33 485.90,392.50 486.01,391.67 486.11,390.83 486.20,390.00 486.27,389.17 486.33,388.33 486.37,387.50 486.41,386.67 486.45,385.83 486.50,385.00 486.56,384.17 486.62,383.33 486.68,382.50 486.75,381.67 486.80,380.83 486.85,380.00 486.89,379.17 486.91,378.33 486.93,377.50 486.95,376.67 486.97,375.83 487.00,375.00 487.03,374.22 487.06,373.52 487.08,372.81 487.12,372.04 487.15,371.12 487.20,370.00 487.26,368.80 487.33,367.60 487.41,366.26 487.49,364.64 487.55,362.60 487.60,360.00 487.60,356.39 487.60,351.79 487.60,346.77 487.60,341.90 487.60,337.72 487.60,334.80" fill="#ffc2a5" stroke="#ff9015" stroke-width="1.4" stroke-linejoin="round"/>
<line x1="481.15" y1="414.50" x2="494.05" y2="414.50" stroke="#555" stroke-width="1.0" />
<line x1="480.80" y1="444.50" x2="494.40" y2="444.50" stroke="#555" stroke-width="1.0" />
<line x1="479.62" y1="430.20" x2="495.58" y2="430.20" stroke="#111" stroke-width="1.6" />
<polygon points="517.90,332.80 517.90,335.96 517.90,340.49 517.90,345.77 517.90,351.20 517.90,356.15 517.90,360.00 517.94,362.66 517.99,364.61 518.06,366.07 518.13,367.30 518.19,368.53 518.25,370.00 518.30,371.72 518.34,373.52 518.38,375.31 518.42,377.04 518.46,378.62 518.50,380.00 518.54,381.12 518.58,382.04 518.62,382.81 518.66,383.52 518.71,384.22 518.75,385.00 518.79,385.83 518.83,386.67 518.87,387.50 518.91,388.33 518.97,389.17 519.05,390.00 519.15,390.83 519.26,391.67 519.39,392.50 519.53,393.33 519.66,394.17 519.80,395.00 519.94,395.83 520.08,396.67 520.22,397.50 520.36,398.33 520.51,399.17 520.65,400.00 520.79,400.83 520.93,401.67 521.07,402.50 521.22,403.33 521.36,404.17 521.50,405.00 521.64,405.83 521.78,406.67 521.92,407.50 522.06,408.33 522.21,409.17 522.35,410.00 522.50,410.83 522.65,411.67 522.80,412.50 522.96,413.33 523.11,414.17 523.25,415.00 523.39,415.83 523.51,416.67 523.64,417.50 523.77,418.33 523.90,419.17 524.05,420.00 524.21,420.83 524.39,421.67 524.58,422.50 524.76,423.33 524.94,424.17 525.10,425.00 525.24,425.83 525.37,426.67 525.49,427.50 525.61,428.33 525.73,429.17 525.85,430.00 526.00,430.83 526.16,431.67 526.33,432.50 526.48,433.33 526.59,434.17 526.65,435.00 526.65,435.83 526.60,436.67 526.51,437.50 526.40,438.33 526.28,439.17 526.15,440.00 526.01,440.85 525.84,441.72 525.67,442.59 525.48,443.44 525.31,444.25 525.15,445.00 525.00,445.69 524.86,446.35 524.73,446.97 524.60,447.54 524.49,448.05 524.40,448.50 524.34,448.83 524.32,449.02 524.31,449.16 524.30,449.31 524.25,449.57 524.15,450.00 523.99,450.63 523.78,451.41 523.54,452.28 523.29,453.20 523.03,454.13 522.80,455.00 522.58,455.83 522.36,456.67 522.14,457.50 521.93,458.33 521.71,459.17 521.50,460.00 521.29,460.83 521.08,461.67 520.87,462.50 520.66,463.33 520.45,464.17 520.25,465.00 520.04,465.83 519.83,466.67 519.62,467.50 519.41,468.33 519.22,469.17 519.05,470.00 518.90,470.83 518.76,471.67 518.64,472.50 518.53,473.33 518.43,474.17 518.35,475.00 518.29,475.78 518.25,476.48 518.22,477.19 518.20,477.96 518.18,478.88 518.15,480.00 518.11,480.98 518.06,481.69 518.01,482.53 517.97,483.93 517.93,486.28 517.90,490.00 517.90,495.94 517.90,503.93 517.90,512.88 517.90,521.69 517.90,529.26 517.90,534.50 517.90,534.50 517.90,529.26 517.90,521.69 517.90,512.88 517.90,503.93 517.90,495.94 517.90,490.00 517.87,486.28 517.83,483.93 517.79,482.53 517.74,481.69 517.69,480.98 517.65,480.00 517.62,478.88 517.60,477.96 517.58,477.19 517.55,476.48 517.51,475.78 517.45,475.00 517.37,474.17 517.27,473.33 517.16,472.50 517.04,471.67 516.90,470.83 516.75,470.00 516.58,469.17 516.39,468.33 516.18,467.50 515.97,466.67 515.76,465.83 515.55,465.00 515.35,464.17 515.14,463.33 514.93,462.50 514.72,461.67 514.51,460.83 514.30,460.00 514.09,459.17 513.87,458.33 513.66,457.50 513.44,456.67 513.22,455.83 513.00,455.00 512.77,454.13 512.51,453.20 512.26,452.28 512.02,451.41 511.81,450.63 511.65,450.00 511.55,449.57 511.50,449.31 511.49,449.16 511.48,449.02 511.46,448.83 511.40,448.50 511.31,448.05 511.20,447.54 511.07,446.97 510.94,446.35 510.80,445.69 510.65,445.00 510.49,444.25 510.32,443.44 510.13,442.59 509.96,441.72 509.79,440.85 509.65,440.00 509.52,439.17 509.40,438.33 509.29,437.50 509.20,436.67 509.15,435.83 509.15,435.00 509.21,434.17 509.32,433.33 509.47,432.50 509.64,431.67 509.80,430.83 509.95,430.00 510.07,429.17 510.19,428.33 510.31,427.50 510.43,426.67 510.56,425.83 510.70,425.00 510.86,424.17 511.04,423.33 511.22,422.50 511.41,421.67 511.59,420.83 511.75,420.00 511.90,419.17 512.03,418.33 512.16,417.50 512.29,416.67 512.41,415.83 512.55,415.00 512.69,414.17 512.84,413.33 513.00,412.50 513.15,411.67 513.30,410.83 513.45,410.00 513.59,409.17 513.74,408.33 513.88,407.50 514.02,406.67 514.16,405.83 514.30,405.00 514.44,404.17 514.58,403.33 514.73,402.50 514.87,401.67 515.01,400.83 515.15,400.00 515.29,399.17 515.44,398.33 515.58,397.50 515.72,396.67 515.86,395.83 516.00,395.00 516.14,394.17 516.27,393.33 516.41,392.50 516.54,391.67 516.65,390.83 516.75,390.00 516.83,389.17 516.89,388.33 516.93,387.50 516.97,386.67 517.01,385.83 517.05,385.00 517.09,384.22 517.14,383.52 517.18,382.81 517.22,382.04 517.26,381.12 517.30,380.00 517.34,378.62 517.38,377.04 517.42,375.31 517.46,373.52 517.50,371.72 517.55,370.00 517.61,368.53 517.67,367.30 517.74,366.07 517.81,364.61 517.86,362.66 517.90,360.00 517.90,356.15 517.90,351.20 517.90,345.77 517.90,340.49 517.90,335.96 517.90,332.80" fill="#d892dc" stroke="#a957e0" stroke-width="1.4" stroke-linejoin="round"/>
<line x1="512.30" y1="418.50" x2="523.50" y2="418.50" stroke="#555" stroke-width="1.0" />
<line x1="511.70" y1="448.50" x2="524.10" y2="448.50" stroke="#555" stroke-width="1.0" />
<line x1="509.53" y1="434.00" x2="526.27" y2="434.00" stroke="#111" stroke-width="1.6" />
</svg>
</body></html>
